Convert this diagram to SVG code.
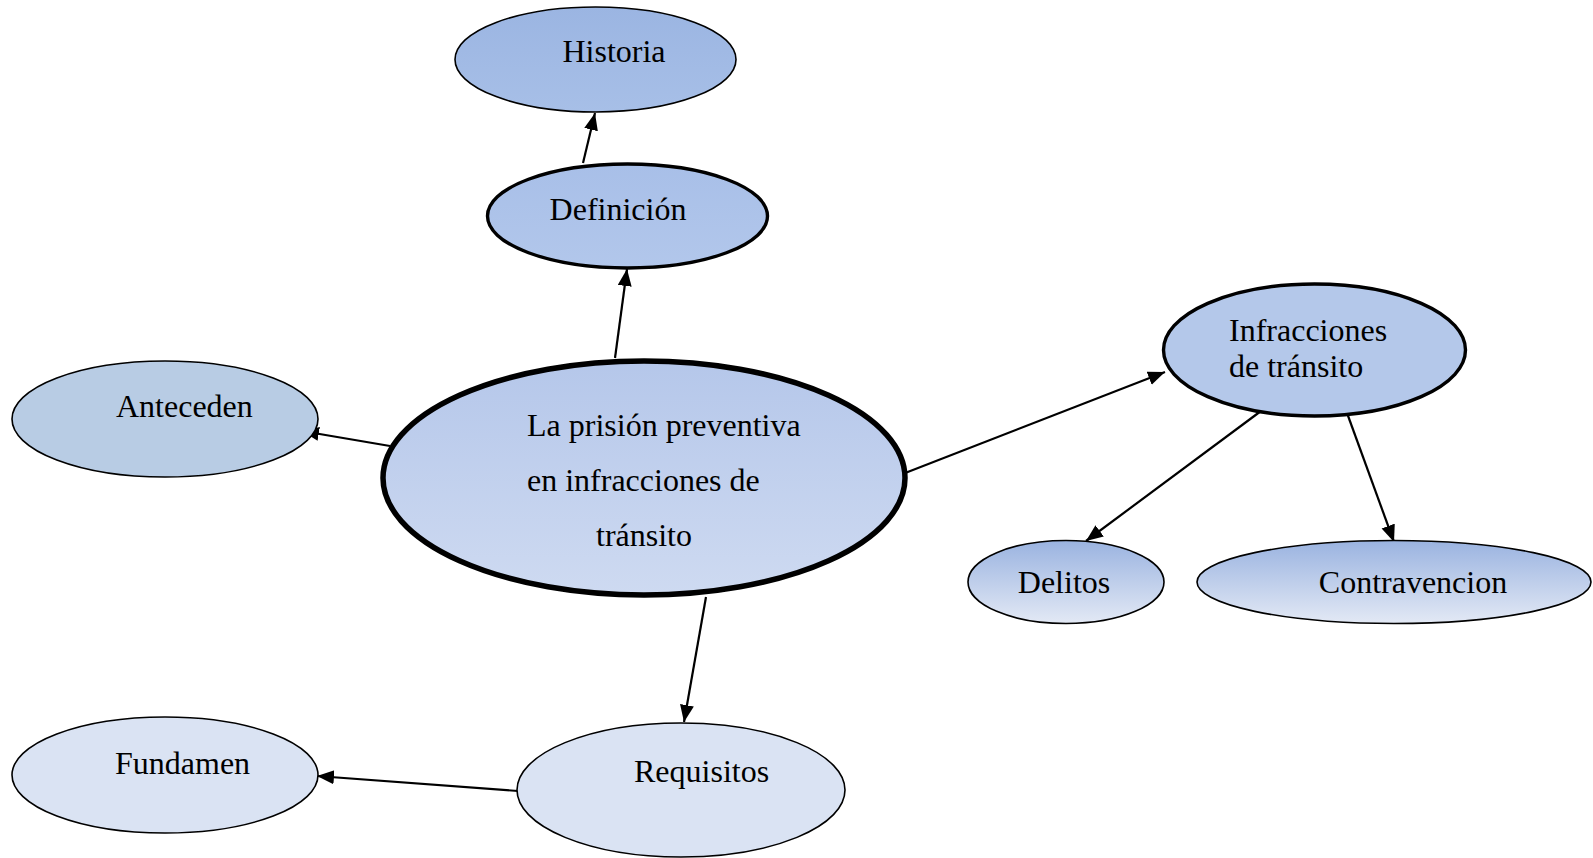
<svg xmlns="http://www.w3.org/2000/svg" width="1593" height="858" viewBox="0 0 1593 858">
<style>
text{font-family:"Liberation Serif","Times New Roman",serif;font-size:32px;fill:#000}
.n{stroke:#000;stroke-width:1.6}
.thick{stroke-width:3.4}
.main{stroke-width:5.5}
.c line{stroke:#000;stroke-width:2.2}
</style>
<defs>
<marker id="ah" markerUnits="userSpaceOnUse" markerWidth="20" markerHeight="16" refX="17" refY="7" orient="auto"><path d="M0,0 L17,7 L0,14 z" fill="#000"/></marker>
<linearGradient id="gMain" x1="0" y1="0" x2="0" y2="1"><stop offset="0" stop-color="#b5c7ea"/><stop offset="1" stop-color="#cedaf1"/></linearGradient>
<linearGradient id="gSub" x1="0" y1="0" x2="0" y2="1"><stop offset="0" stop-color="#9ab3e0"/><stop offset="1" stop-color="#e3e9f5"/></linearGradient>
<linearGradient id="gHist" x1="0" y1="0" x2="0" y2="1"><stop offset="0" stop-color="#9bb5e2"/><stop offset="1" stop-color="#a7bfe7"/></linearGradient>
<linearGradient id="gDef" x1="0" y1="0" x2="0" y2="1"><stop offset="0" stop-color="#a8bfe8"/><stop offset="1" stop-color="#b2c7eb"/></linearGradient>
</defs>
<g class="c" id="connectors">
<line x1="583" y1="163" x2="595" y2="113" marker-end="url(#ah)"/>
<line x1="615" y1="358" x2="627" y2="269" marker-end="url(#ah)"/>
<line x1="390" y1="446" x2="302" y2="431" marker-end="url(#ah)"/>
<line x1="900" y1="475" x2="1165" y2="372" marker-end="url(#ah)"/>
<line x1="1261" y1="411" x2="1086" y2="541" marker-end="url(#ah)"/>
<line x1="1347" y1="413" x2="1394" y2="542" marker-end="url(#ah)"/>
<line x1="706" y1="597" x2="684" y2="722" marker-end="url(#ah)"/>
<line x1="518" y1="791" x2="317" y2="776" marker-end="url(#ah)"/>
</g>
<g id="historia"><ellipse class="n" cx="595.5" cy="59.5" rx="140.5" ry="52.5" fill="url(#gHist)"/><text x="614" y="62" text-anchor="middle">Historia</text></g>
<g id="definicion"><ellipse class="n thick" cx="627.5" cy="216" rx="140" ry="52" fill="url(#gDef)"/><text x="618" y="220" text-anchor="middle">Definición</text></g>
<g id="anteceden"><ellipse class="n" cx="165" cy="419" rx="153" ry="58" fill="#b8cce4"/><text x="116" y="417">Anteceden</text></g>
<g id="central"><ellipse class="n main" cx="644" cy="478" rx="261" ry="117" fill="url(#gMain)"/><text x="527" y="436">La prisión preventiva</text><text x="527" y="491">en infracciones de</text><text x="596" y="546">tránsito</text></g>
<g id="infracciones"><ellipse class="n thick" cx="1314.5" cy="350" rx="151" ry="66" fill="#b4c8ea"/><text x="1229" y="341">Infracciones</text><text x="1229" y="377">de tránsito</text></g>
<g id="delitos"><ellipse class="n" cx="1066" cy="582" rx="98" ry="41.5" fill="url(#gSub)"/><text x="1064" y="593" text-anchor="middle">Delitos</text></g>
<g id="contravencion"><ellipse class="n" cx="1394" cy="582" rx="197" ry="41.5" fill="url(#gSub)"/><text x="1413" y="593" text-anchor="middle">Contravencion</text></g>
<g id="fundamen"><ellipse class="n" cx="165" cy="775" rx="153" ry="58" fill="#dae3f3"/><text x="115" y="774">Fundamen</text></g>
<g id="requisitos"><ellipse class="n" cx="681" cy="790" rx="164" ry="67" fill="#dae3f3"/><text x="634" y="782">Requisitos</text></g>
</svg>
